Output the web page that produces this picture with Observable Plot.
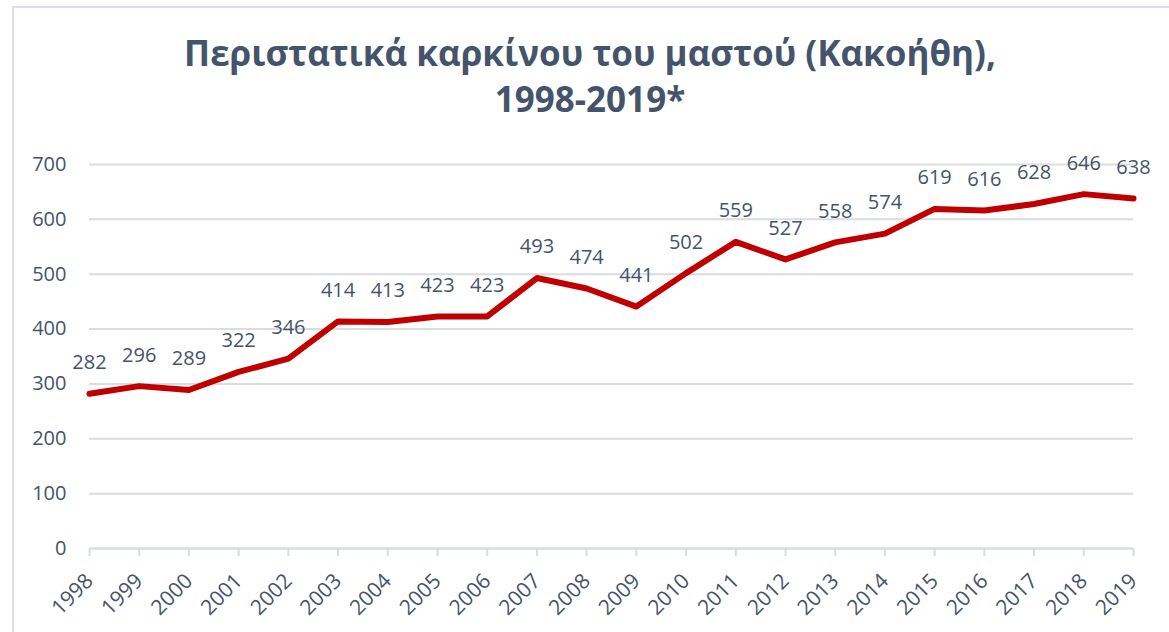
<!DOCTYPE html>
<html>
<head>
<meta charset="utf-8">
<script src="https://cdn.jsdelivr.net/npm/d3@7"></script>
<script src="https://cdn.jsdelivr.net/npm/@observablehq/plot@0.6"></script>
<style>
  html, body { margin: 0; padding: 0; background: #fff; }
  #wrap { position: relative; width: 1169px; height: 632px; overflow: hidden; font-family: "Open Sans", sans-serif; }
  #frame { position: absolute; left: 12px; top: 6px; width: 1200px; height: 700px; border-left: 2px solid #DCE0E6; border-top: 2px solid #DCE0E6; }
  #title { position: absolute; left: 0; top: 30px; width: 1180px; text-align: center; font-weight: 700; font-size: 35px; line-height: 46px; color: #44546A; }
  #chart { position: absolute; left: 0; top: 130px; }
</style>
</head>
<body>
<div id="wrap">
  <div id="frame"></div>
  <div id="title">Περιστατικά καρκίνου του μαστού (Κακοήθη),<br>1998-2019*</div>
  <div id="chart"></div>
</div>
<script>
const years = ["1998","1999","2000","2001","2002","2003","2004","2005","2006","2007","2008","2009","2010","2011","2012","2013","2014","2015","2016","2017","2018","2019"];
const cases = [282,296,289,322,346,414,413,423,423,493,474,441,502,559,527,558,574,619,616,628,646,638];
const yTicks = [0,100,200,300,400,500,600,700];

const data = years.map((y, i) => ({year: y, value: cases[i]}));

const chart = Plot.plot({
  width: 1169,
  height: 502,
  marginLeft: 89,
  marginRight: 36,
  marginTop: 34,
  marginBottom: 84,
  style: {fontFamily: "Open Sans, sans-serif", fontSize: "20px", color: "#44546A", background: "transparent"},
  x: {type: "point", domain: years, padding: 0, round: false, label: null},
  y: {domain: [0, 700], label: null},
  marks: [
    Plot.gridY(yTicks, {stroke: "#D9DCE1", strokeOpacity: 1, strokeWidth: 2}),
    Plot.ruleY([0], {stroke: "#D6DCE5", strokeWidth: 2}),
    Plot.axisY(yTicks, {tickSize: 0, tickPadding: 23, fontSize: 20, fill: "#44546A", label: null}),
    Plot.axisX({tickRotate: -45, tickSize: 8, tickPadding: 21, stroke: "#D6DCE5", strokeWidth: 2, strokeOpacity: 1, fill: "#44546A", fontSize: 21, label: null}),
    Plot.line(data, {x: "year", y: "value", stroke: "#C00000", strokeWidth: 6}),
    Plot.text(data, {x: "year", y: "value", text: d => String(d.value), dy: -31, fill: "#44546A", fontSize: 20})
  ]
});
document.getElementById("chart").appendChild(chart);
</script>
</body>
</html>
